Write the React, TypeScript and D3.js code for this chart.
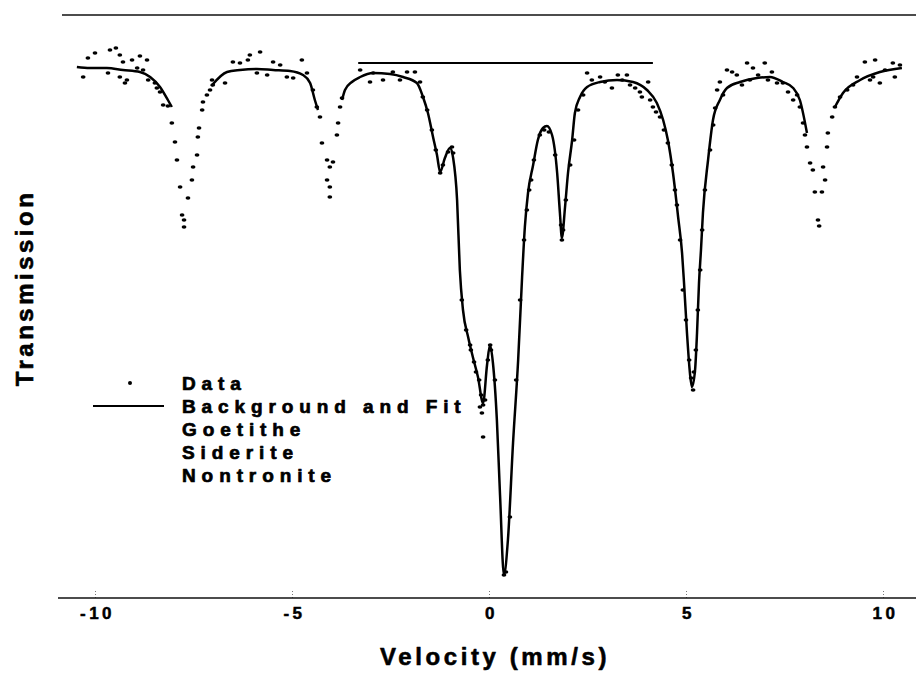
import React, { useRef, useEffect } from "react";
import * as d3 from "d3";

const W = 916;
const H = 673;

// velocity axis (mm/s)
const velocityDomain = [-10, 10];
const axisExtent = [-10.94, 10.84];
const xTicks = [-10, -5, 0, 5, 10];
// relative transmission (%)
const transDomain = [70.85, 100];
const frameLevel = 100;

const legendLabels = ["Data", "Background and Fit", "Goetithe", "Siderite", "Nontronite"];
const xTitle = "Velocity (mm/s)";
const yTitle = "Transmission";

// horizontal marker segment
const markerSegment = [
  [-3.32, 97.6],
  [4.16, 97.6],
];

// fitted envelope [velocity, transmission]; null = not visible in the figure
const fitCurve = [
  [-10.46, 97.4], [-10.13, 97.35], [-9.7, 97.35], [-9.29, 97.25], [-8.86, 97.15], [-8.6, 96.9],
  [-8.35, 96.4], [-8.15, 95.75], [-8.05, 95.4],
  [-7.5, null],
  [-7.05, 96.45], [-6.65, 97.15], [-6.32, 97.25], [-5.89, 97.3], [-5.48, 97.25], [-5.05, 97.2],
  [-4.72, 97.0], [-4.54, 96.6], [-4.42, 95.75], [-4.34, 95.25],
  [-4.0, null],
  [-3.73, 95.75], [-3.655, 96.25], [-3.48, 96.65], [-3.27, 96.9], [-2.94, 97.1], [-2.51, 97.05],
  [-2.18, 96.9], [-1.83, 96.6], [-1.675, 95.9], [-1.55, 95.1], [-1.42, 93.9], [-1.32, 93.0],
  [-1.24, 92.15], [-1.12, 92.85], [-0.99, 93.35], [-0.91, 92.85], [-0.81, 90.75], [-0.74, 87.25],
  [-0.66, 85.25], [-0.53, 83.9], [-0.41, 82.9], [-0.28, 81.9], [-0.15, 80.6], [-0.05, 82.5],
  [0.025, 83.5], [0.1, 82.6], [0.2, 79.75], [0.28, 76.0], [0.38, 72.0], [0.48, 73.75], [0.61, 78.6],
  [0.74, 82.75], [0.84, 86.9], [0.91, 89.4], [0.99, 91.1], [1.12, 92.5], [1.24, 93.75], [1.37, 94.35],
  [1.47, 94.45], [1.6, 94.0], [1.73, 92.1], [1.8, 90.1], [1.85, 88.85], [1.93, 90.4], [2.005, 92.1],
  [2.11, 93.75], [2.18, 95.1], [2.31, 95.9], [2.49, 96.4], [2.82, 96.65], [3.25, 96.75], [3.655, 96.65],
  [4.01, 96.25], [4.26, 95.6], [4.42, 94.75], [4.54, 93.75], [4.67, 92.1], [4.8, 89.9], [4.9, 88.1],
  [4.95, 86.6], [5.025, 84.1], [5.1, 82.1], [5.15, 81.4], [5.23, 82.25], [5.28, 84.1], [5.33, 86.6],
  [5.38, 88.25], [5.43, 90.1], [5.56, 92.75], [5.685, 94.75], [5.86, 95.75], [6.04, 96.35], [6.37, 96.65],
  [6.8, 96.85], [7.13, 96.9], [7.46, 96.65], [7.72, 96.35], [7.89, 95.75], [8.07, 94.1],
  [8.4, null],
  [8.78, 95.4], [8.985, 96.1], [9.42, 96.75], [9.92, 97.15], [10.48, 97.35],
];

// measured points [velocity, transmission]
const dataPoints = [
  [-10.3, 96.9], [-10.18, 97.85], [-10.0, 98.1], [-9.67, 97.1], [-9.62, 98.25], [-9.47, 98.35],
  [-9.37, 98.0], [-9.37, 96.9], [-9.29, 97.65], [-9.24, 96.6], [-9.19, 96.75], [-9.06, 97.75],
  [-8.93, 97.35], [-8.86, 97.95], [-8.78, 97.25], [-8.68, 97.75], [-8.65, 96.75], [-8.48, 96.6],
  [-8.43, 96.35], [-8.35, 96.15], [-8.27, 95.5], [-8.15, 95.45], [-8.05, 94.6], [-7.97, 93.65],
  [-7.92, 92.75], [-7.84, 91.4], [-7.79, 90.0], [-7.74, 89.75], [-7.74, 89.4], [-7.64, 90.85],
  [-7.54, 91.75], [-7.51, 92.4], [-7.41, 93.0], [-7.39, 93.9], [-7.36, 94.35], [-7.28, 95.25],
  [-7.26, 95.65], [-7.16, 96.0], [-7.08, 96.25], [-7.03, 96.75], [-7.01, 96.5], [-6.7, 96.6],
  [-6.5, 97.65], [-6.32, 97.6], [-6.12, 97.75], [-6.07, 98.0], [-5.89, 97.1], [-5.81, 98.15],
  [-5.63, 97.0], [-5.48, 97.65], [-5.3, 97.5], [-5.13, 96.9], [-4.97, 96.85], [-4.75, 97.75],
  [-4.62, 97.1], [-4.47, 96.25], [-4.37, 95.4], [-4.29, 94.9], [-4.24, 93.6], [-4.11, 92.75],
  [-4.04, 92.4], [-4.11, 91.75], [-4.04, 91.4], [-4.04, 90.9], [-3.96, 92.65], [-3.86, 94.0],
  [-3.83, 94.6], [-3.78, 95.4], [-3.73, 95.85], [-3.27, 97.25], [-3.02, 96.65], [-2.94, 97.1],
  [-2.69, 96.75], [-2.44, 97.15], [-2.26, 96.75], [-2.08, 97.15], [-1.88, 97.15], [-1.75, 96.65],
  [-1.68, 95.9], [-1.57, 95.25], [-1.45, 94.25], [-1.35, 93.25], [-1.24, 92.1], [-1.17, 92.5],
  [-1.04, 93.15], [-0.94, 93.4], [-0.91, 93.1],
  [-0.69, 85.75], [-0.58, 84.25], [-0.48, 83.5], [-0.46, 83.25], [-0.38, 82.65], [-0.33, 82.15],
  [-0.25, 81.75], [-0.2, 81.0], [-0.15, 80.5], [-0.23, 80.4], [-0.18, 80.1], [-0.15, 78.9],
  [-0.1, 80.75], [-0.03, 82.75], [0.03, 83.5], [0.05, 83.25], [0.15, 81.75], [0.38, 72.0],
  [0.43, 72.15], [0.53, 74.9], [0.69, 81.75], [0.79, 85.75], [0.89, 88.75], [0.96, 90.25],
  [1.02, 91.25], [1.07, 91.75], [1.14, 92.75], [1.29, 94.0], [1.4, 94.25], [1.52, 94.15],
  [1.68, 93.0], [1.83, 89.5], [1.85, 88.75], [1.88, 89.25],
  [1.95, 90.75], [2.06, 92.5], [2.16, 93.75], [2.26, 95.25], [2.39, 96.0], [2.49, 97.1],
  [2.61, 96.75], [2.82, 96.9], [2.94, 96.65], [3.12, 96.35], [3.27, 97.0], [3.38, 96.75],
  [3.5, 97.0], [3.58, 96.5], [3.71, 96.35], [3.83, 96.15], [3.88, 95.9], [4.04, 96.65],
  [4.09, 95.75], [4.16, 95.4], [4.24, 95.15], [4.34, 94.9], [4.44, 94.25], [4.54, 93.6],
  [4.64, 92.5], [4.72, 91.25], [4.77, 90.5], [4.85, 88.75], [4.92, 86.25], [5.0, 84.75],
  [5.08, 82.75], [5.13, 81.85], [5.18, 81.25], [5.2, 82.15], [5.25, 83.25], [5.3, 85.25],
  [5.36, 87.25], [5.41, 89.25], [5.48, 91.25], [5.61, 93.25], [5.69, 94.5], [5.74, 95.35],
  [5.79, 96.25], [5.86, 96.65], [5.94, 96.0], [6.04, 97.25], [6.17, 97.15], [6.29, 97.0],
  [6.42, 96.5], [6.55, 97.6], [6.62, 96.75], [6.7, 97.35], [6.83, 97.0], [7.0, 97.6],
  [7.08, 96.75], [7.18, 97.15], [7.31, 96.6], [7.46, 96.6], [7.59, 96.15], [7.72, 95.75],
  [7.82, 96.0], [7.89, 95.4], [7.97, 94.6], [8.02, 94.0], [8.07, 93.4], [8.15, 92.6],
  [8.22, 92.25], [8.27, 91.15], [8.35, 89.75], [8.38, 89.45], [8.45, 91.15], [8.48, 92.4],
  [8.53, 91.75], [8.58, 93.4], [8.6, 94.1], [8.71, 94.9], [8.78, 95.4], [8.91, 95.9],
  [9.09, 96.25], [9.24, 96.5], [9.34, 96.9], [9.54, 97.65], [9.67, 96.75], [9.75, 96.9],
  [9.8, 97.75], [9.92, 96.6], [10.05, 97.25], [10.25, 97.6], [10.3, 96.9], [10.43, 97.5],
];

const FONT = "'Liberation Sans', Arial, Helvetica, sans-serif";

export default function App() {
  const ref = useRef<SVGSVGElement>(null);

  useEffect(() => {
    const svg = d3.select(ref.current);
    svg.selectAll("*").remove();

    const x = d3.scaleLinear().domain(velocityDomain).range([95, 883]);
    const y = d3.scaleLinear().domain(transDomain).range([598, 15]);

    const heavy = (sel: any, size: number, ls: number, sw: number) =>
      sel.attr("font-family", FONT).attr("font-weight", "bold").attr("font-size", size)
        .attr("letter-spacing", ls).attr("fill", "#000")
        .attr("stroke", "#000").attr("stroke-width", sw).attr("stroke-linejoin", "round");

    // top frame line
    svg.append("line")
      .attr("x1", x(axisExtent[0]) + 4).attr("x2", x(axisExtent[1]))
      .attr("y1", y(frameLevel)).attr("y2", y(frameLevel))
      .attr("stroke", "#111").attr("stroke-width", 1.6);

    // bottom axis
    const axis = d3.axisBottom(x)
      .tickValues(xTicks)
      .tickFormat((d: any) => String(d))
      .tickSizeInner(-7).tickSizeOuter(0).tickPadding(9);
    const g = svg.append("g").attr("transform", `translate(0,${y(transDomain[0])})`).call(axis);
    g.select(".domain").remove();
    g.selectAll(".tick line").attr("stroke", "#777").attr("stroke-dasharray", "1,2").attr("stroke-width", 1);
    heavy(g.selectAll(".tick text"), 17, 3.5, 0.5).attr("dx", 2);
    svg.append("line")
      .attr("x1", x(axisExtent[0])).attr("x2", x(axisExtent[1]))
      .attr("y1", y(transDomain[0])).attr("y2", y(transDomain[0]))
      .attr("stroke", "#111").attr("stroke-width", 1.6);

    // marker segment
    svg.append("line")
      .attr("x1", x(markerSegment[0][0])).attr("x2", x(markerSegment[1][0]))
      .attr("y1", y(markerSegment[0][1])).attr("y2", y(markerSegment[1][1]))
      .attr("stroke", "#000").attr("stroke-width", 2);

    // fit line
    const line = d3.line<any>()
      .defined((d) => d[1] !== null)
      .x((d) => x(d[0]))
      .y((d) => y(d[1]))
      .curve(d3.curveMonotoneX);
    svg.append("path").datum(fitCurve).attr("d", line)
      .attr("fill", "none").attr("stroke", "#000").attr("stroke-width", 2.5)
      .attr("stroke-linejoin", "round");

    // data points
    svg.append("g").selectAll("ellipse").data(dataPoints).join("ellipse")
      .attr("cx", (d) => x(d[0])).attr("cy", (d) => y(d[1]))
      .attr("rx", 2.4).attr("ry", 1.7).attr("fill", "#000");

    // legend
    const lx = 182, ly = 383, step = 23;
    const leg = svg.append("g");
    leg.append("circle").attr("cx", 130).attr("cy", ly).attr("r", 2).attr("fill", "#000");
    leg.append("line").attr("x1", 93).attr("x2", 164).attr("y1", ly + step).attr("y2", ly + step)
      .attr("stroke", "#000").attr("stroke-width", 2);
    heavy(
      leg.selectAll("text").data(legendLabels).join("text")
        .attr("x", lx).attr("y", (_d: any, i: number) => ly + i * step)
        .attr("dominant-baseline", "central")
        .text((d: any) => d),
      19, 5.9, 0.7
    );

    // axis titles
    heavy(
      svg.append("text")
        .attr("x", 495).attr("y", 656)
        .attr("text-anchor", "middle").attr("dominant-baseline", "central")
        .text(xTitle),
      24, 3.6, 0.6
    );
    heavy(
      svg.append("text")
        .attr("transform", "translate(24,288) rotate(-90)")
        .attr("text-anchor", "middle").attr("dominant-baseline", "central")
        .text(yTitle),
      24, 3.5, 0.6
    );
  }, []);

  return (
    <svg
      ref={ref}
      width={W}
      height={H}
      viewBox={`0 0 ${W} ${H}`}
      style={{ position: "absolute", left: 0, top: 0, background: "#fff" }}
    />
  );
}
